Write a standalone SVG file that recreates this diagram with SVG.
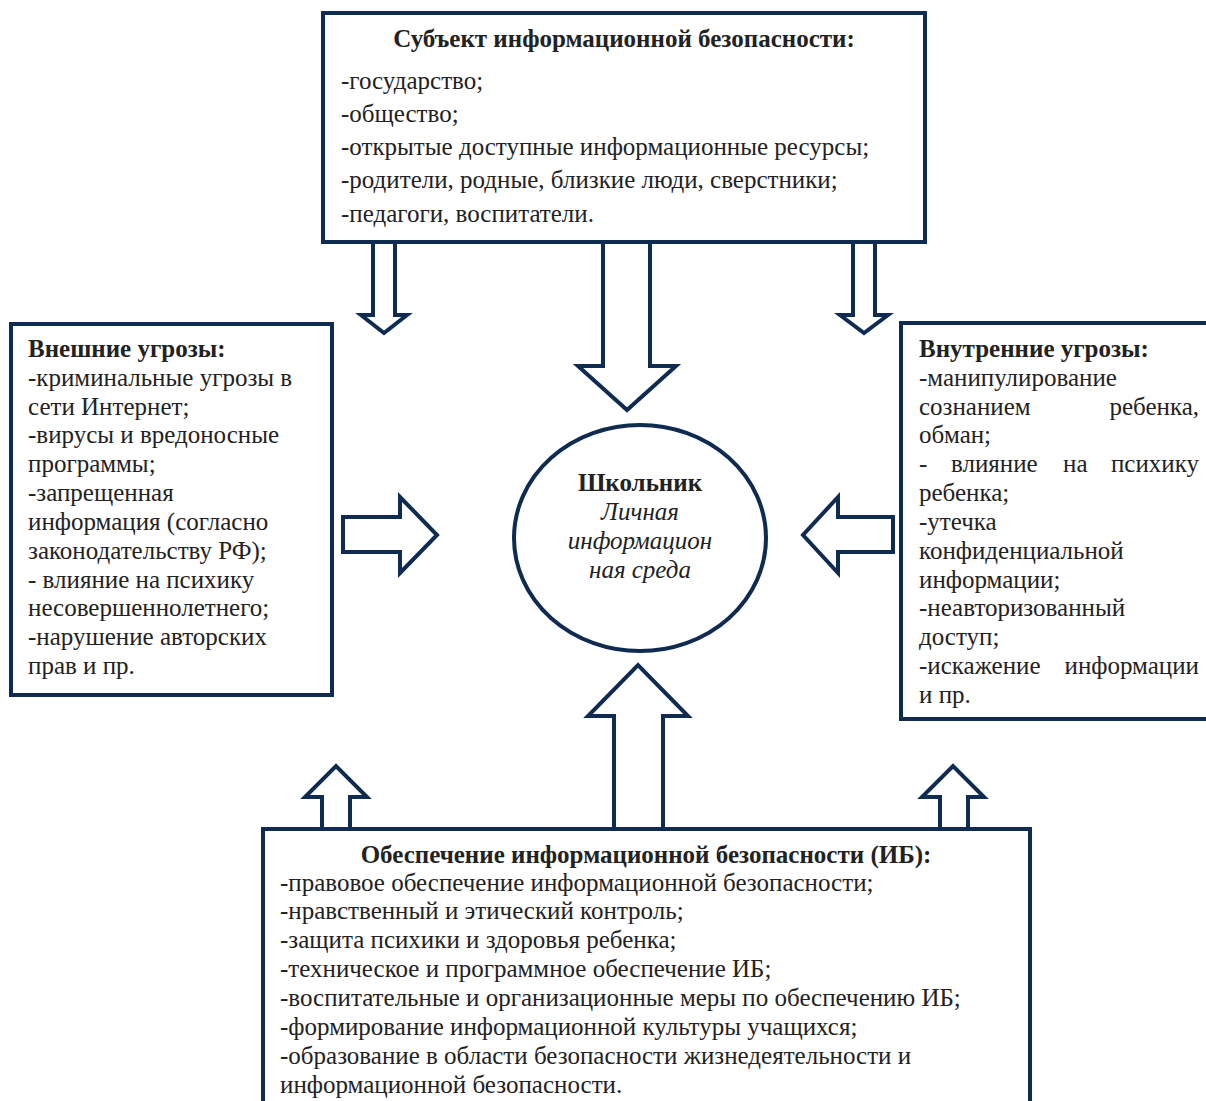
<svg xmlns="http://www.w3.org/2000/svg" width="1206" height="1101" viewBox="0 0 1206 1101">
<style>
.box{fill:#fff;stroke:#0f2b52;stroke-width:4}
.arr{fill:#fff;stroke:#0f2b52;stroke-width:4;stroke-linejoin:miter}
text{font-family:"Liberation Serif","Times New Roman",serif;font-size:25px;fill:#222}
.b{font-weight:bold}
.i{font-style:italic}
.c{text-anchor:middle}
.e{text-anchor:end}
</style>
<rect width="1206" height="1101" fill="#fff"/>
<g id="connectors">
<polygon class="arr" points="373,240 395,240 395,315 407,315 384,333 361,315 373,315"/>
<polygon class="arr" points="603,240 650,240 650,366 676,366 627,410 578,366 603,366"/>
<polygon class="arr" points="853,240 875,240 875,315 888,315 864,333 840,315 853,315"/>
<polygon class="arr" points="343,517 400,517 400,497 437,535 400,573 400,552 343,552"/>
<polygon class="arr" points="893,517 838,517 838,497 803,535 838,573 838,552 893,552"/>
<polygon class="arr" points="614,830 614,716 588,716 638,665 688,716 663,716 663,830"/>
<polygon class="arr" points="322,830 322,797 305,797 336,766 367,797 350,797 350,830"/>
<polygon class="arr" points="940,830 940,797 922,797 953,766 984,797 968,797 968,830"/>
</g>
<g id="subject">
<rect class="box" x="323" y="13" width="602" height="229"/>
<text class="b c" x="624" y="47">Субъект информационной безопасности:</text>
<text x="341" y="89">-государство;</text>
<text x="341" y="122">-общество;</text>
<text x="341" y="155">-открытые доступные информационные ресурсы;</text>
<text x="341" y="188">-родители, родные, близкие люди, сверстники;</text>
<text x="341" y="222">-педагоги, воспитатели.</text>
</g>
<g id="external">
<rect class="box" x="11" y="324" width="321" height="371"/>
<text class="b" x="28" y="357">Внешние угрозы:</text>
<text x="28" y="386">-криминальные угрозы в</text>
<text x="28" y="415">сети Интернет;</text>
<text x="28" y="443">-вирусы и вредоносные</text>
<text x="28" y="472">программы;</text>
<text x="28" y="501">-запрещенная</text>
<text x="28" y="530">информация (согласно</text>
<text x="28" y="559">законодательству РФ);</text>
<text x="28" y="588">- влияние на психику</text>
<text x="28" y="616">несовершеннолетнего;</text>
<text x="28" y="645">-нарушение авторских</text>
<text x="28" y="674">прав и пр.</text>
</g>
<g id="internal">
<rect class="box" x="901" y="323" width="310" height="396"/>
<text class="b" x="919" y="357">Внутренние угрозы:</text>
<text x="919" y="386">-манипулирование</text>
<text x="919" y="415">сознанием</text>
<text class="e" x="1199" y="415">ребенка,</text>
<text x="919" y="443">обман;</text>
<text x="919" y="472">-</text>
<text x="951" y="472">влияние</text>
<text x="1063" y="472">на</text>
<text class="e" x="1199" y="472">психику</text>
<text x="919" y="501">ребенка;</text>
<text x="919" y="530">-утечка</text>
<text x="919" y="559">конфиденциальной</text>
<text x="919" y="588">информации;</text>
<text x="919" y="616">-неавторизованный</text>
<text x="919" y="645">доступ;</text>
<text x="919" y="674">-искажение</text>
<text class="e" x="1199" y="674">информации</text>
<text x="919" y="703">и пр.</text>
</g>
<g id="student">
<ellipse class="box" cx="640" cy="538" rx="126" ry="113"/>
<text class="b c" x="640" y="491">Школьник</text>
<text class="i c" x="640" y="520">Личная</text>
<text class="i c" x="640" y="549">информацион</text>
<text class="i c" x="640" y="578">ная среда</text>
</g>
<g id="provision">
<rect class="box" x="263" y="829" width="767" height="290"/>
<text class="b c" x="646" y="863">Обеспечение информационной безопасности (ИБ):</text>
<text x="280" y="891">-правовое обеспечение информационной безопасности;</text>
<text x="280" y="919">-нравственный и этический контроль;</text>
<text x="280" y="948">-защита психики и здоровья ребенка;</text>
<text x="280" y="977">-техническое и программное обеспечение ИБ;</text>
<text x="280" y="1006">-воспитательные и организационные меры по обеспечению ИБ;</text>
<text x="280" y="1035">-формирование информационной культуры учащихся;</text>
<text x="280" y="1064">-образование в области безопасности жизнедеятельности и</text>
<text x="280" y="1093">информационной безопасности.</text>
</g>
</svg>
